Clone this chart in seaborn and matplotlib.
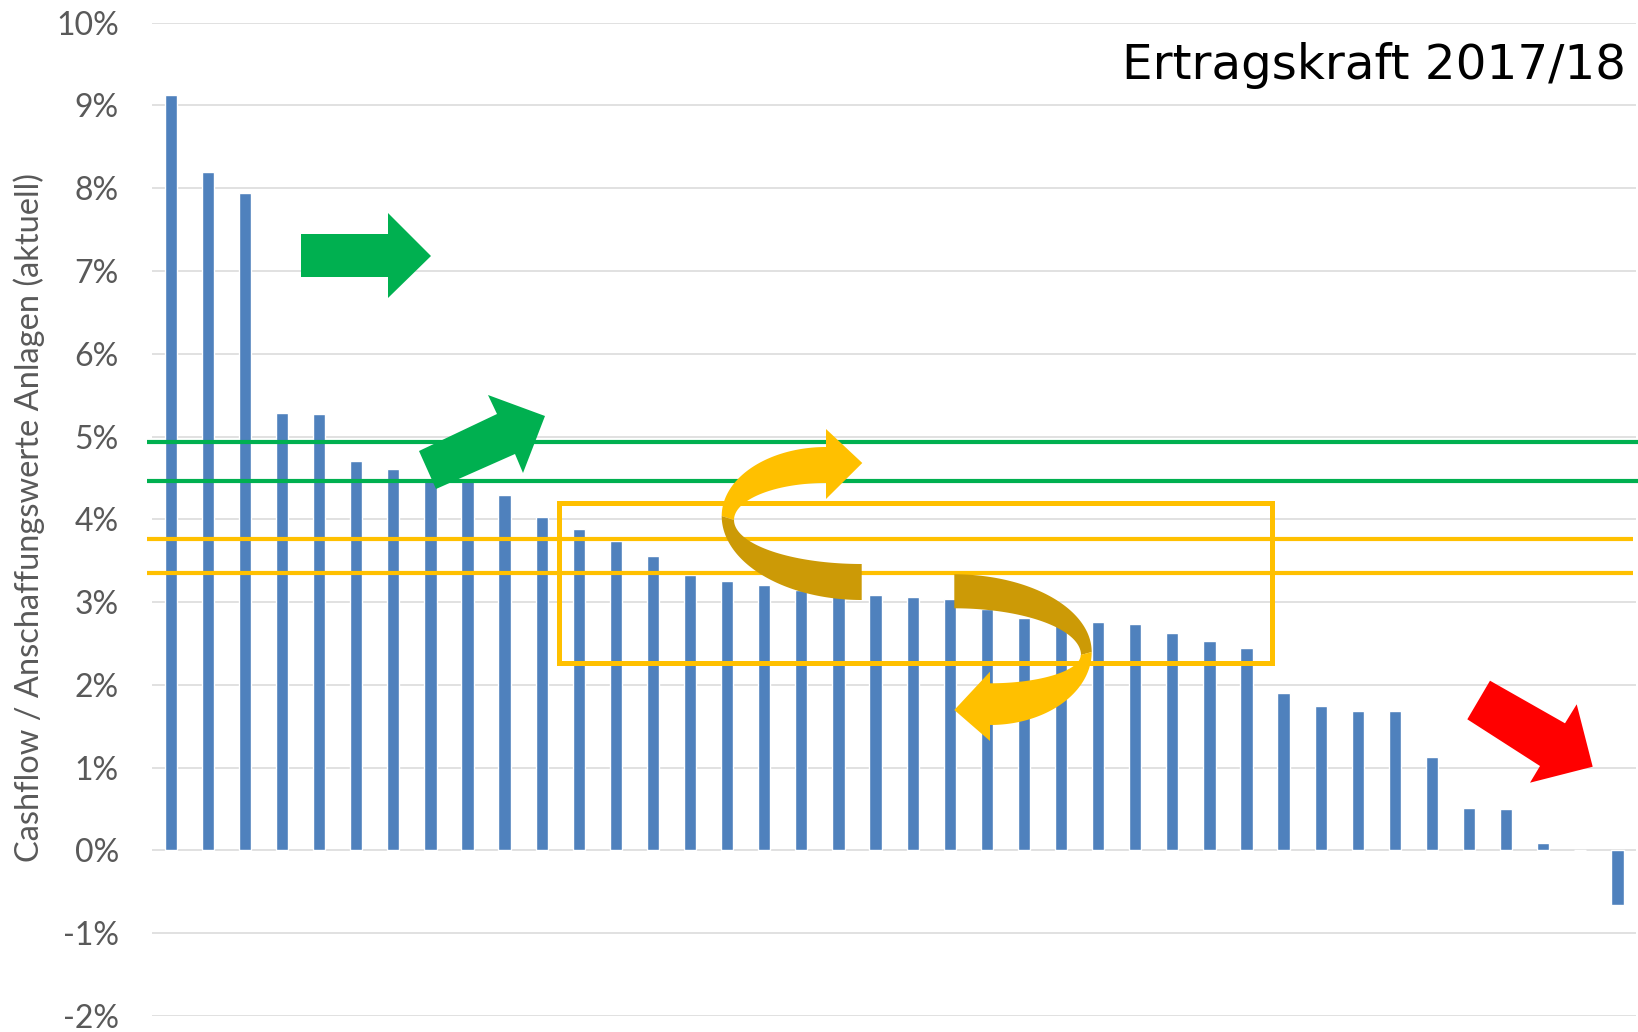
import numpy as np
import pandas as pd
import matplotlib
matplotlib.use("Agg")
import matplotlib.pyplot as plt
from matplotlib.patches import Polygon, Rectangle
import seaborn as sns

# ---- data ----
companies = [str(i) for i in range(1, 41)]
cashflow_pct = [9.13, 8.20, 7.94, 5.29, 5.27, 4.71, 4.61, 4.48, 4.47, 4.30,
                4.03, 3.88, 3.74, 3.56, 3.33, 3.25, 3.21, 3.15, 3.12, 3.09,
                3.06, 3.04, 2.92, 2.81, 2.78, 2.76, 2.74, 2.63, 2.53, 2.45,
                1.90, 1.74, 1.69, 1.69, 1.13, 0.51, 0.50, 0.09, 0.00, -0.66]
green_levels = [4.93, 4.46]
orange_levels = [3.76, 3.35]
box_first_idx, box_last_idx = 11, 29   # bars framed by the orange box (0-based)
box_low, box_high = 2.27, 4.20
y_ticks = list(range(-2, 11))
y_ticklabels = [f"{t}%" for t in y_ticks]
title = "Ertragskraft 2017/18"
ylabel = "Cashflow / Anschaffungswerte Anlagen (aktuell)"

W, H = 1638, 1032
sns.set_theme(style="white")
plt.rcParams["font.family"] = ["Lato", "DejaVu Sans"]

fig = plt.figure(figsize=(W / 100, H / 100), dpi=100)
ax_left, ax_right = 152.2, 1636.0
ax_top, ax_bot = 22.7, 1016.0
ax = fig.add_axes([ax_left / W, 1 - ax_bot / H, (ax_right - ax_left) / W, (ax_bot - ax_top) / H])

df = pd.DataFrame({"company": companies, "value": cashflow_pct})
sns.barplot(data=df, x="company", y="value", color="#4F81BD", saturation=1,
            width=0.33, ax=ax, zorder=2)

ax.set_xlim(-0.5, len(companies) - 0.5)
ax.set_ylim(-2, 10)
ax.set_yticks(y_ticks)
ax.set_yticklabels(y_ticklabels, fontsize=23, color="#595959")
ax.set_xticks([])
ax.set_xlabel("")
ax.set_ylabel("")
ax.tick_params(axis="y", length=0, pad=24)
ax.yaxis.grid(True, color="#D9D9D9", lw=1.1, zorder=0)
ax.set_axisbelow(True)
for s in ax.spines.values():
    s.set_visible(False)

# reference levels
xl0 = -0.5 + (147 - ax_left) / 37.1
for v in green_levels:
    ax.plot([xl0, 39.55], [v, v], color="#00B050", lw=3.0, clip_on=False, zorder=3, solid_capstyle="butt")
for v in orange_levels:
    ax.plot([xl0, 39.41], [v, v], color="#FFC000", lw=3.0, clip_on=False, zorder=3, solid_capstyle="butt")
bx0 = box_first_idx - 0.53
bx1 = box_last_idx + 0.68
ax.add_patch(Rectangle((bx0, box_low), bx1 - bx0, box_high - box_low,
                       fill=False, edgecolor="#FFC000", lw=3.6, zorder=3))

fig.text(29 / W, 1 - 518 / H, ylabel, rotation=90, ha="center", va="center",
         fontsize=23.5, color="#595959")
fig.text(1626 / W, 1 - 79 / H, title, ha="right", va="baseline", fontsize=34.8,
         color="black", family="DejaVu Sans")


def P(pts):
    return [(x / W, 1 - y / H) for x, y in pts]


def add_poly(pts, color, z=5):
    fig.add_artist(Polygon(P(pts), closed=True, facecolor=color, edgecolor="none",
                           transform=fig.transFigure, zorder=z))


def arc(cx, cy, a, b, t0, t1, n=80):
    t = np.radians(np.linspace(t0, t1, n))
    return np.column_stack([cx + a * np.cos(t), cy + b * np.sin(t)])


def ribbon(outer, inner):
    return np.vstack([arc(*outer), arc(*inner)[::-1]])


# green arrows
add_poly([(301, 234), (388, 234), (388, 213), (431, 256), (388, 298), (388, 277), (301, 277)], "#00B050")
add_poly([(419, 451), (497, 414), (488, 395), (545, 416), (523, 473), (515, 454), (436, 489)], "#00B050")
# red arrow
add_poly([(1490, 680.7), (1565, 723.3), (1576.7, 704.3), (1592.7, 766.7), (1530, 782.7),
          (1540, 766), (1467.3, 719.3)], "#FF0000")

dark, light = "#CC9A06", "#FFC000"
# upper curved arrow (turning up and right)
add_poly(ribbon((826, 516, 104.3, 69, 180, 270), (826, 520, 92, 37, 180, 270)), light)
add_poly([(826, 429), (862.3, 463), (826, 499)], light)
add_poly(ribbon((861.7, 516, 140, 84, 90, 180), (861.7, 520, 127.7, 44, 90, 180)), dark)
# lower curved arrow (turning down and left)
add_poly(ribbon((954.3, 652, 137.4, 77.7, 270, 360), (954.3, 655, 126.7, 46.7, 270, 360)), dark)
add_poly(ribbon((990, 652, 101.7, 73, 0, 90), (990, 655, 90.7, 28.3, 0, 90)), light)
add_poly([(990, 671.7), (954.3, 710), (990, 741)], light)

fig.savefig("out.png", dpi=100)
